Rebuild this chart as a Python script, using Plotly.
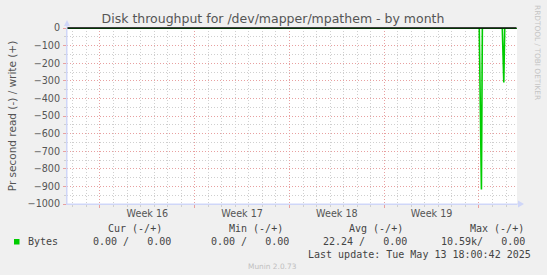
import plotly.graph_objects as go

# ---------------- data ----------------
times = ["2025-04-11 13:30", "2025-05-12 00:30", "2025-05-12 04:20", "2025-05-12 06:00",
         "2025-05-13 17:20", "2025-05-13 20:00", "2025-05-13 21:40", "2025-05-14 19:25"]
read_vals = [0, 0, -918, 0, 0, -310, 0, 0]       # read (-)
write_vals = [0, 0, 0, 0, 0, 0, 0, 0]            # write (+)

week_ticks = ["2025-04-17 12:00", "2025-04-24 12:00", "2025-05-01 12:00", "2025-05-08 12:00"]
week_labels = ["Week 16", "Week 17", "Week 18", "Week 19"]
y_ticks = [0, -100, -200, -300, -400, -500, -600, -700, -800, -900, -1000]

x_range = ["2025-04-11 13:30", "2025-05-14 19:25"]
y_range = [-1000, 0]

title = "Disk throughput for /dev/mapper/mpathem - by month"
y_title = "Pr second read (-) / write (+)"
series_name = "Bytes"
series_color = "#00cc00"
headers = ["Cur (-/+)", "Min (-/+)", "Avg (-/+)", "Max (-/+)"]
values = ["0.00 /   0.00", "0.00 /   0.00", "22.24 /   0.00", "10.59k/   0.00"]
last_update = "Last update: Tue May 13 18:00:42 2025"
munin_ver = "Munin 2.0.73"
rrd_text = "RRDTOOL / TOBI OETIKER"

# ---------------- layout geometry ----------------
W, H = 547, 275
L, R, T, B = 67, 30, 28, 71
PW, PH = W - L - R, H - T - B


def X(px):
    return (px - L) / PW


def Y(py):
    return (H - B - py) / PH


FONT = "DejaVu Sans"
MONO = "DejaVu Sans Mono"
TXT = "#555555"
AXIS = "#CFD6F8"
MGRID = "#e8a0a0"
GRID = "#cfcfcf"

fig = go.Figure()
fig.add_trace(go.Scatter(x=times, y=write_vals, mode="lines",
                         line=dict(color=series_color, width=1.5), showlegend=False, hoverinfo="skip"))
fig.add_trace(go.Scatter(x=times, y=read_vals, mode="lines",
                         line=dict(color=series_color, width=1.6), showlegend=False, hoverinfo="skip"))
# invisible trace on xaxis2 to carry week labels
fig.add_trace(go.Scatter(x=x_range, y=[None, None], xaxis="x2", showlegend=False, hoverinfo="skip"))

fig.update_layout(
    width=W, height=H, autosize=False,
    margin=dict(l=L, r=R, t=T, b=B, pad=0),
    paper_bgcolor="#f0f0f0", plot_bgcolor="#ffffff",
    font=dict(family=FONT, size=9.6, color=TXT),
    title=dict(text=title, font=dict(family=FONT, size=12.5, color=TXT),
               xref="container", yref="container", x=273 / W, y=1 - 19 / H,
               xanchor="center", yanchor="middle"),
    xaxis=dict(type="date", range=x_range, showticklabels=False,
               tick0="2025-04-14", dtick=7 * 86400000,
               showgrid=True, gridcolor=MGRID, griddash="1px,2px", gridwidth=1,
               ticks="outside", ticklen=3, tickcolor=MGRID,
               minor=dict(dtick=86400000, tick0="2025-04-14", showgrid=True, gridcolor=GRID,
                          griddash="1px,2px", gridwidth=1, ticks="outside", ticklen=2, tickcolor=GRID),
               showline=True, linecolor=AXIS, linewidth=1, zeroline=False, fixedrange=True),
    xaxis2=dict(type="date", range=x_range, overlaying="x", side="bottom", anchor="y",
                tickmode="array", tickvals=week_ticks, ticktext=week_labels,
                showgrid=False, ticks="", showline=False, zeroline=False,
                tickfont=dict(family=FONT, size=9.6, color=TXT), ticklabelstandoff=2),
    yaxis=dict(range=y_range, tickmode="array", tickvals=y_ticks,
               showgrid=True, gridcolor=MGRID, griddash="1px,2px", gridwidth=1,
               ticks="outside", ticklen=3, tickcolor=MGRID, ticklabelstandoff=1,
               minor=dict(dtick=50, showgrid=True, gridcolor=GRID, griddash="1px,2px",
                          gridwidth=1, ticks="outside", ticklen=2, tickcolor=GRID),
               showline=True, linecolor=AXIS, linewidth=1, zeroline=False,
               tickfont=dict(family=FONT, size=9.6, color=TXT),
               title=dict(text=y_title, font=dict(family=FONT, size=10.5, color=TXT), standoff=8),
               fixedrange=True),
)

shapes = [
    # black zero line (paper-referenced so it is not clipped)
    dict(type="line", xref="paper", yref="paper", x0=0, x1=X(516.5), y0=1, y1=1,
         line=dict(color="#000000", width=1.6), layer="above"),
    # y-axis extension to arrow
    dict(type="line", xref="paper", yref="paper", x0=X(67), x1=X(67), y0=Y(204), y1=Y(23),
         line=dict(color=AXIS, width=1)),
    dict(type="line", xref="paper", yref="paper", x0=X(67), x1=X(519), y0=Y(204), y1=Y(204),
         line=dict(color=AXIS, width=1)),
    # arrows
    dict(type="path", xref="paper", yref="paper",
         path=f"M {X(64)},{Y(26)} L {X(70)},{Y(26)} L {X(67)},{Y(20)} Z",
         fillcolor=AXIS, line=dict(width=0)),
    dict(type="path", xref="paper", yref="paper",
         path=f"M {X(518)},{Y(200.5)} L {X(518)},{Y(207.5)} L {X(524)},{Y(204)} Z",
         fillcolor=AXIS, line=dict(width=0)),
    # legend colour box
    dict(type="rect", xref="paper", yref="paper", x0=X(14), x1=X(19.5), y0=Y(244.5), y1=Y(239),
         fillcolor=series_color, line=dict(width=0)),
]
fig.update_layout(shapes=shapes)

LEG = "#444444"
ann = []
header_right = [164, 285, 405, 526]
value_right = [173, 291, 409, 527]
for h, xr in zip(headers, header_right):
    ann.append(dict(text=h, x=X(xr), y=Y(228.6), xanchor="right", yanchor="middle"))
for v, xr in zip(values, value_right):
    ann.append(dict(text=v.replace(" ", "&nbsp;"), x=X(xr), y=Y(241.5), xanchor="right", yanchor="middle"))
ann.append(dict(text=series_name, x=X(26), y=Y(241.5), xanchor="left", yanchor="middle"))
ann.append(dict(text=last_update, x=X(533), y=Y(254.2), xanchor="right", yanchor="middle"))
for a in ann:
    a.update(xref="paper", yref="paper", showarrow=False,
             font=dict(family=MONO, size=10, color=LEG))
ann.append(dict(text=munin_ver, x=X(272.5), y=Y(266.3), xref="paper", yref="paper",
                xanchor="center", yanchor="middle", showarrow=False,
                font=dict(family=FONT, size=7.4, color="#c0c0c0")))
ann.append(dict(text=rrd_text, x=X(537.5), y=Y(52.5), xref="paper", yref="paper",
                xanchor="center", yanchor="middle", showarrow=False, textangle=90,
                font=dict(family=FONT, size=7.4, color="#c4c4c4")))
fig.update_layout(annotations=ann)

fig.write_html("out.html", config={"displayModeBar": False})
